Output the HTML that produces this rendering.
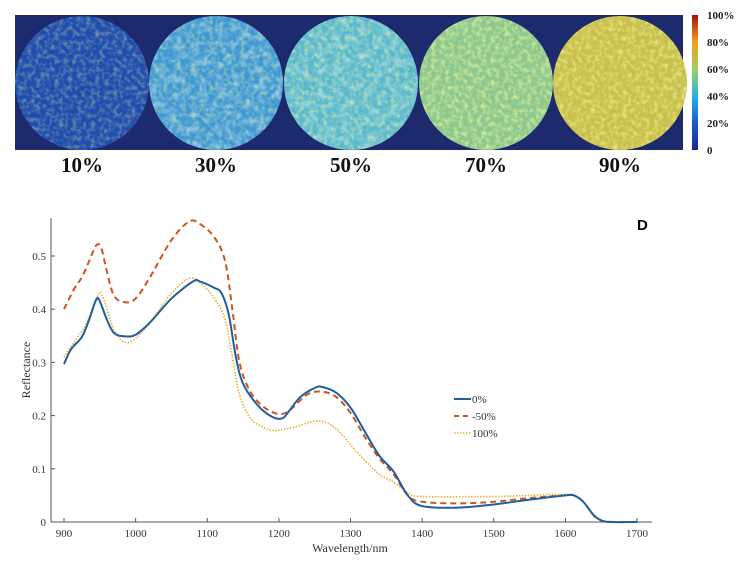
<!DOCTYPE html>
<html><head><meta charset="utf-8"><style>
html,body{margin:0;padding:0;background:#fff;}
svg{display:block;font-family:"Liberation Serif",serif;}
</style></head><body>
<svg width="741" height="564" viewBox="0 0 741 564" xmlns="http://www.w3.org/2000/svg">
<defs>
<filter id="n" x="0" y="0" width="100%" height="100%">
<feTurbulence type="fractalNoise" baseFrequency="0.22" numOctaves="2" seed="3"/>
<feColorMatrix type="matrix" values="0 0 0 0 1  0 0 0 0 1  0 0 0 0 0.3  1.6 0 0 0 -0.65"/>
<feComposite in2="SourceGraphic" operator="in"/>
</filter>
<filter id="d" x="0" y="0" width="100%" height="100%">
<feTurbulence type="fractalNoise" baseFrequency="0.12" numOctaves="2" seed="9"/>
<feColorMatrix type="matrix" values="0 0 0 0 1  0 0 0 0 1  0 0 0 0 1  0 1.6 0 0 -0.7"/>
<feComposite in2="SourceGraphic" operator="in"/>
</filter>
<linearGradient id="cb" x1="0" y1="1" x2="0" y2="0">
<stop offset="0" stop-color="#1a2a8a"/><stop offset="0.2" stop-color="#1f5cc8"/><stop offset="0.4" stop-color="#30b0e0"/><stop offset="0.6" stop-color="#a0d060"/><stop offset="0.8" stop-color="#f0a020"/><stop offset="1" stop-color="#a01010"/>
</linearGradient>
</defs>
<rect x="15" y="15" width="668" height="135" fill="#1d2a6e"/>
<ellipse cx="82" cy="83" rx="67" ry="67" fill="#1f4db0"/>
<ellipse cx="82" cy="83" rx="67" ry="67" fill="#3a70c8" filter="url(#n)" opacity="0.5"/>
<ellipse cx="216" cy="83" rx="67" ry="67" fill="#3c98d6"/>
<ellipse cx="216" cy="83" rx="67" ry="67" fill="#2a60c0" filter="url(#d)" opacity="0.6"/>
<ellipse cx="216" cy="83" rx="67" ry="67" fill="#80c8a0" filter="url(#n)" opacity="0.6"/>
<ellipse cx="351" cy="83" rx="67" ry="67" fill="#58b8d0"/>
<ellipse cx="351" cy="83" rx="67" ry="67" fill="#3a80d0" filter="url(#d)" opacity="0.5"/>
<ellipse cx="351" cy="83" rx="67" ry="67" fill="#d0d840" filter="url(#n)" opacity="0.7"/>
<ellipse cx="486" cy="83" rx="67" ry="67" fill="#8cc890"/>
<ellipse cx="486" cy="83" rx="67" ry="67" fill="#e8c030" filter="url(#n)" opacity="0.9"/>
<ellipse cx="620" cy="83" rx="67" ry="67" fill="#c8c050"/>
<ellipse cx="620" cy="83" rx="67" ry="67" fill="#d84018" filter="url(#n)" opacity="0.85"/>
<rect x="692" y="15" width="6" height="135" fill="url(#cb)"/>
<g font-size="11" font-weight="bold" fill="#222">
<text x="707" y="19">100%</text><text x="707" y="46">80%</text><text x="707" y="73">60%</text><text x="707" y="100">40%</text><text x="707" y="127">20%</text><text x="707" y="154">0</text>
</g>
<g font-size="21" font-weight="bold" text-anchor="middle" fill="#111">
<text x="82" y="172">10%</text><text x="216" y="172">30%</text><text x="351" y="172">50%</text><text x="486" y="172">70%</text><text x="620" y="172">90%</text>
</g>
<text x="637" y="230" font-size="15" font-weight="bold" font-family="Liberation Sans, sans-serif">D</text>
<g stroke="#555" stroke-width="1" fill="none">
<line x1="51" y1="218" x2="51" y2="522"/><line x1="51" y1="522" x2="652" y2="522"/>
</g>
<g id="ticks" stroke="#555"></g>
<g font-size="11" fill="#333" id="lbl"></g>
<text x="30" y="370" font-size="12" fill="#333" text-anchor="middle" transform="rotate(-90 30 370)">Reflectance</text>
<text x="350" y="552" font-size="12" fill="#333" text-anchor="middle">Wavelength/nm</text>
<path id="y" fill="none" stroke="#e6b030" stroke-width="1.6" stroke-dasharray="1.5 1.5"/>
<path id="r" fill="none" stroke="#d2521c" stroke-width="2" stroke-dasharray="6 4"/>
<path id="b" fill="none" stroke="#1f5fa0" stroke-width="2"/>
<line x1="454" y1="399" x2="471" y2="399" stroke="#1f5fa0" stroke-width="2"/>
<line x1="454" y1="416" x2="471" y2="416" stroke="#d2521c" stroke-width="2" stroke-dasharray="5 4"/>
<line x1="454" y1="433" x2="471" y2="433" stroke="#e6b030" stroke-width="1.6" stroke-dasharray="1.5 1.5"/>
<g font-size="11" fill="#333"><text x="472" y="403">0%</text><text x="472" y="420">-50%</text><text x="472" y="437">100%</text></g>
</svg>
<script>
var X=function(w){return 64+(w-900)*0.7163},Y=function(r){return 522-r*532};
var ns="http://www.w3.org/2000/svg";
var t=document.getElementById('ticks'),l=document.getElementById('lbl');
for(var w=900;w<=1700;w+=100){var e=document.createElementNS(ns,'line');e.setAttribute('x1',X(w));e.setAttribute('x2',X(w));e.setAttribute('y1',522);e.setAttribute('y2',518);t.appendChild(e);
var s=document.createElementNS(ns,'text');s.setAttribute('x',X(w));s.setAttribute('y',537);s.setAttribute('text-anchor','middle');s.textContent=w;l.appendChild(s);}
for(var i=0;i<=5;i++){var r=i/10;var e=document.createElementNS(ns,'line');e.setAttribute('x1',51);e.setAttribute('x2',55);e.setAttribute('y1',Y(r));e.setAttribute('y2',Y(r));t.appendChild(e);
var s=document.createElementNS(ns,'text');s.setAttribute('x',46);s.setAttribute('y',Y(r)+4);s.setAttribute('text-anchor','end');s.textContent=i?r.toFixed(1):'0';l.appendChild(s);}
function path(d){var p=d.map(function(a){return[X(a[0]),Y(a[1])]});var s='M'+p[0][0]+','+p[0][1];
for(var i=0;i<p.length-1;i++){var p0=p[i-1]||p[i],p1=p[i],p2=p[i+1],p3=p[i+2]||p2;
s+='C'+(p1[0]+(p2[0]-p0[0])/6)+','+(p1[1]+(p2[1]-p0[1])/6)+' '+(p2[0]-(p3[0]-p1[0])/6)+','+(p2[1]-(p3[1]-p1[1])/6)+' '+p2[0]+','+p2[1];}return s;}
var B=[[900,.297],[910,.325],[925,.348],[935,.38],[945,.418],[950,.415],[960,.38],[970,.355],[985,.349],[1000,.352],[1020,.375],[1050,.42],[1080,.452],[1090,.452],[1110,.44],[1120,.43],[1130,.39],[1140,.31],[1150,.26],[1170,.22],[1190,.198],[1205,.195],[1215,.21],[1230,.235],[1250,.252],[1260,.254],[1280,.243],[1300,.215],[1320,.17],[1340,.125],[1360,.095],[1380,.05],[1400,.03],[1450,.027],[1500,.033],[1550,.042],[1600,.05],[1612,.05],[1625,.038],[1640,.012],[1652,.002],[1665,0],[1700,0]];
var R=[[900,.40],[915,.44],[925,.46],[935,.49],[945,.52],[952,.515],[960,.47],[970,.425],[985,.413],[1000,.42],[1020,.46],[1050,.53],[1075,.565],[1090,.56],[1110,.535],[1125,.49],[1135,.40],[1145,.30],[1160,.245],[1180,.215],[1200,.203],[1215,.21],[1240,.24],[1260,.245],[1280,.235],[1300,.205],[1320,.16],[1340,.12],[1360,.09],[1380,.05],[1400,.038],[1450,.035],[1500,.038],[1550,.045],[1600,.05],[1612,.05],[1625,.038],[1640,.012],[1652,.002],[1665,0],[1700,0]];
var Yd=[[900,.31],[915,.34],[930,.37],[948,.428],[955,.42],[970,.36],[985,.338],[1000,.345],[1020,.375],[1050,.43],[1075,.458],[1090,.45],[1110,.42],[1125,.38],[1135,.31],[1145,.24],[1160,.195],[1180,.177],[1195,.172],[1220,.178],[1255,.19],[1280,.175],[1310,.13],[1340,.09],[1360,.075],[1380,.055],[1400,.048],[1500,.048],[1550,.05],[1600,.052],[1612,.05],[1625,.038],[1640,.012],[1652,.002],[1665,0],[1700,0]];
document.getElementById('b').setAttribute('d',path(B));
document.getElementById('r').setAttribute('d',path(R));
document.getElementById('y').setAttribute('d',path(Yd));
</script>
</body></html>
